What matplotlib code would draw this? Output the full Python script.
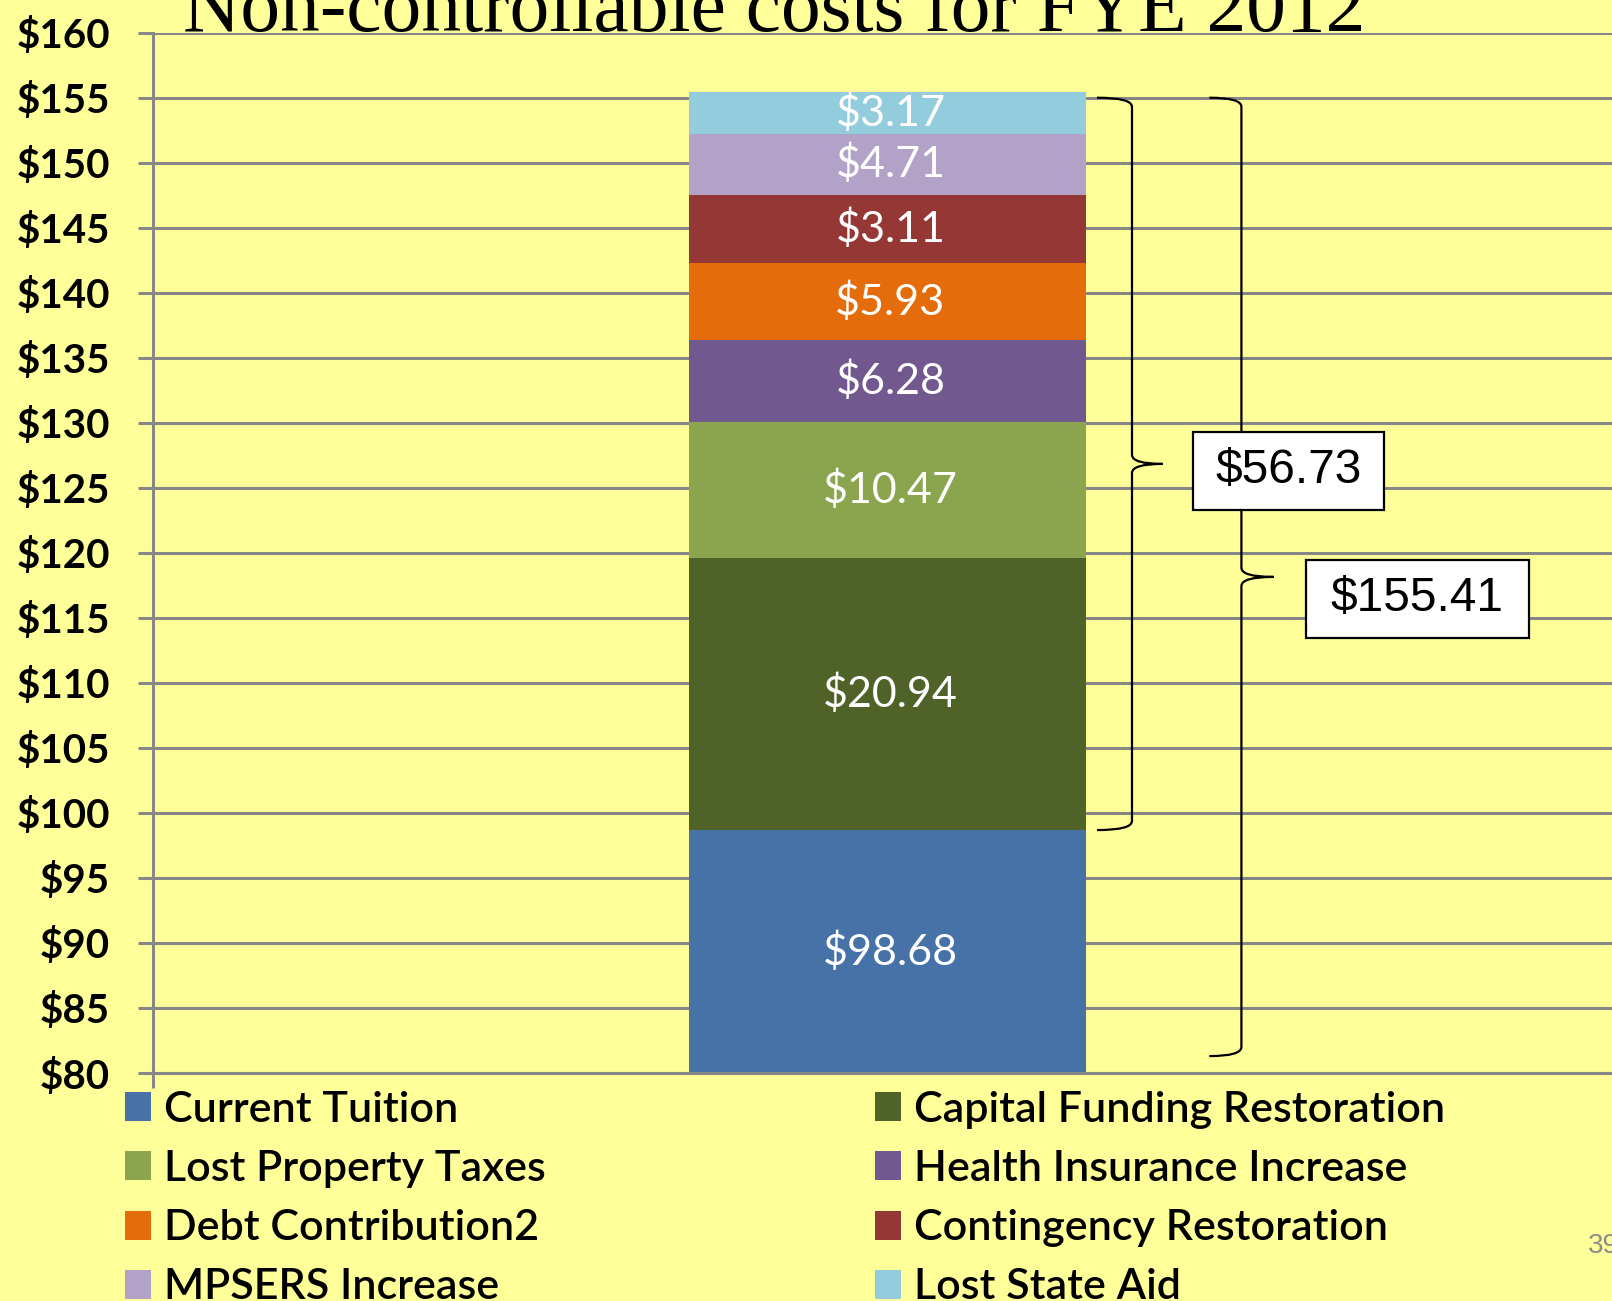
import numpy as np
import matplotlib
matplotlib.use("Agg")
import matplotlib.pyplot as plt
from matplotlib.path import Path
from matplotlib.patches import PathPatch, Rectangle

# data, bottom to top of the stack
series = ["Current Tuition", "Capital Funding Restoration", "Lost Property Taxes",
          "Health Insurance Increase", "Debt Contribution2", "Contingency Restoration",
          "MPSERS Increase", "Lost State Aid"]
values = [98.68, 20.94, 10.47, 6.28, 5.93, 5.23, 4.71, 3.17]
value_labels = ["$98.68", "$20.94", "$10.47", "$6.28", "$5.93", "$3.11", "$4.71", "$3.17"]
colors = ["#4672A8", "#4F6228", "#8AA54E", "#71588F", "#E46C0A", "#953735", "#B2A2C7", "#93CDDD"]
title = "Non-controllable costs for FYE 2012"
y_ticks = np.arange(80, 165, 5)

bg = "#FFFF99"
grid_c = "#878787"
cal = ["Lato", "DejaVu Sans"]

fig = plt.figure(figsize=(16.12, 13.01), dpi=100, facecolor=bg)
ax = fig.add_axes([153/1612, 1 - 1073/1301, 1459/1612, (1073 - 32.7)/1301])
ax.set_facecolor(bg)

bar_x, bar_w = 0.5034, 0.272
bottoms = np.concatenate([[0], np.cumsum(values)[:-1]])
for v, b, c, s, lab in zip(values, bottoms, colors, series, value_labels):
    ax.bar(bar_x, v, bottom=b, width=bar_w, color=c, label=s, zorder=2)
    yc = b + v / 2 if b > 0 else (80 + v) / 2
    ax.text(bar_x + 0.002, yc, lab, ha="center", va="center", color="white",
            fontsize=31, family=cal, zorder=3)

ax.set_xlim(0, 1)
ax.set_ylim(80, 160)
ax.set_yticks(y_ticks)
ax.set_yticklabels(["$%d" % t for t in y_ticks], family=cal, fontsize=29, fontweight="bold")
ax.set_xticks([0])
ax.set_xticklabels([""])
ax.tick_params(axis="both", length=11, width=2.2, color=grid_c, pad=20)
ax.yaxis.grid(True, color=grid_c, linewidth=2.2, zorder=0)
ax.set_axisbelow(True)
for sp in ["top", "right"]:
    ax.spines[sp].set_visible(False)
for sp in ["left", "bottom"]:
    ax.spines[sp].set_color(grid_c)
    ax.spines[sp].set_linewidth(2.2)


def brace(x0, x1, x2, ylo, yhi, r=0.7):
    ym = (ylo + yhi) / 2
    verts = [(x0, yhi), (x1, yhi), (x1, yhi - r), (x1, ym + r), (x1, ym), (x2, ym),
             (x1, ym), (x1, ym - r), (x1, ylo + r), (x1, ylo), (x0, ylo)]
    codes = [Path.MOVETO, Path.CURVE3, Path.CURVE3, Path.LINETO, Path.CURVE3, Path.CURVE3,
             Path.CURVE3, Path.CURVE3, Path.LINETO, Path.CURVE3, Path.CURVE3]
    ax.add_patch(PathPatch(Path(verts, codes), fill=False, lw=1.6, color="black",
                           zorder=4, clip_on=False))


def box(x0, x1, yc, text, h=6.0):
    ax.add_patch(Rectangle((x0, yc - h / 2), x1 - x0, h, facecolor="white",
                           edgecolor="black", lw=1.6, zorder=5))
    ax.text((x0 + x1) / 2, yc, text, ha="center", va="center", fontsize=34.5,
            family="Liberation Sans", zorder=6)


total = sum(values)
upper = sum(values[1:])
brace(0.647, 0.671, 0.692, values[0], 155.0)
brace(0.724, 0.746, 0.768, 81.3, 155.0)
box(0.713, 0.844, 126.33, "$%.2f" % upper)
box(0.790, 0.943, 116.46, "$%.2f" % total)

fig.text(183/1612, 1 - 31/1301, title, ha="left", va="baseline",
         family="Liberation Serif", fontsize=57.2)
fig.text(1588/1612, 1 - 1246/1301, "39", ha="left", va="center",
         family="Liberation Sans", fontsize=20, color="#8C8C8C")

h, l = ax.get_legend_handles_labels()
order = [0, 2, 4, 6, 1, 3, 5, 7]
fig.legend([h[i] for i in order], [l[i] for i in order], loc="upper left",
           bbox_to_anchor=(125/1612, 1 - 1091/1301), ncol=2, frameon=False,
           prop={"family": cal, "size": 31, "weight": "semibold"},
           handlelength=0.6, handleheight=0.66, handletextpad=0.3,
           columnspacing=7.65, labelspacing=0.49, borderpad=0, borderaxespad=0)

fig.savefig("out.png", dpi=100, facecolor=bg)
